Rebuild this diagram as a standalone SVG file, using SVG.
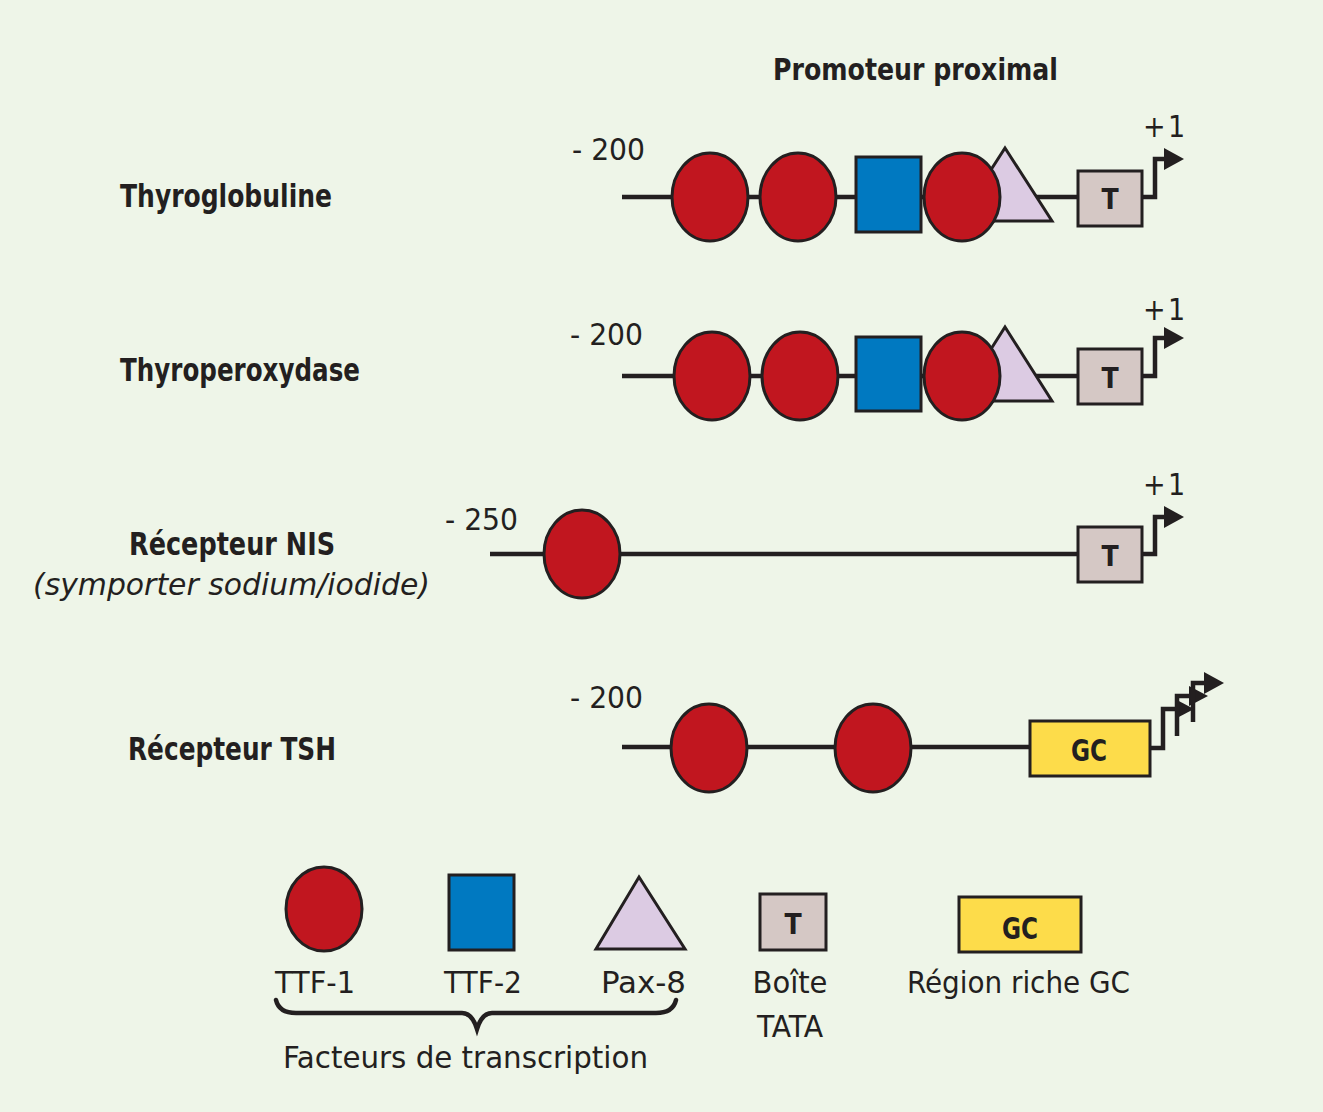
<svg xmlns="http://www.w3.org/2000/svg" width="1323" height="1112" viewBox="0 0 1323 1112">
<style>
.bg{fill:#eef5e8}
.ln{stroke:#231f20;stroke-width:4.5;fill:none}
.ar{stroke:#231f20;stroke-width:4.5;fill:none;stroke-linejoin:miter}
.ttf1{fill:#c1161f;stroke:#231f20;stroke-width:3}
.ttf2{fill:#0079c1;stroke:#231f20;stroke-width:3}
.pax{fill:#dccbe3;stroke:#231f20;stroke-width:3}
.tata{fill:#d5c8c5;stroke:#231f20;stroke-width:3}
.gc{fill:#fddc4a;stroke:#231f20;stroke-width:3}
.hd{fill:#231f20}
.lbl{font-family:"Liberation Sans Narrow","DejaVu Sans Condensed","Liberation Sans",sans-serif;font-weight:bold;fill:#231f20}
.num{font-family:"Liberation Sans Narrow","DejaVu Sans Condensed","Liberation Sans",sans-serif;fill:#231f20;font-size:30px}
.leg{font-family:"DejaVu Sans Condensed","Liberation Sans",sans-serif;fill:#231f20;font-size:30px}
.box{font-family:"DejaVu Sans Condensed","Liberation Sans",sans-serif;font-weight:bold;fill:#231f20;text-anchor:middle}
</style>
<rect class="bg" x="0" y="0" width="1323" height="1112"/>

<text class="lbl" x="773" y="80" font-size="30" textLength="285" lengthAdjust="spacingAndGlyphs">Promoteur proximal</text>

<g id="connectors">
  <line class="ln" x1="622" y1="197" x2="1078" y2="197"/>
  <line class="ln" x1="622" y1="376" x2="1078" y2="376"/>
  <line class="ln" x1="490" y1="554" x2="1078" y2="554"/>
  <line class="ln" x1="622" y1="747" x2="1030" y2="747"/>
  <path class="ar" d="M1142,197 H1155 V159 H1166"/>
  <polygon class="hd" points="1164,148 1184,159 1164,170"/>
  <path class="ar" d="M1142,376 H1155 V338 H1166"/>
  <polygon class="hd" points="1164,327 1184,338 1164,349"/>
  <path class="ar" d="M1142,554 H1155 V517 H1166"/>
  <polygon class="hd" points="1164,506 1184,517 1164,528"/>
  <path class="ar" d="M1150,748 H1163 V709 H1177"/>
  <polygon class="hd" points="1175,699 1194,709 1175,719"/>
  <path class="ar" d="M1177,736 V696 H1191"/>
  <polygon class="hd" points="1189,686 1208,696 1189,706"/>
  <path class="ar" d="M1193,722 V683 H1206"/>
  <polygon class="hd" points="1204,672 1224,683 1204,694"/>
</g>

<g id="row-thyroglobuline">
  <text class="lbl" x="120" y="207" font-size="32" textLength="212" lengthAdjust="spacingAndGlyphs">Thyroglobuline</text>
  <text class="num" x="572" y="160" textLength="73" lengthAdjust="spacingAndGlyphs">- 200</text>
  <text class="num" x="1143" y="137">+<tspan x="1168">1</tspan></text>
  <ellipse class="ttf1" cx="710" cy="197" rx="38" ry="44"/>
  <ellipse class="ttf1" cx="798" cy="197" rx="38" ry="44"/>
  <rect class="ttf2" x="856" y="157" width="65" height="75"/>
  <polygon class="pax" points="1005,148 1052,221 958,221"/>
  <ellipse class="ttf1" cx="962" cy="197" rx="38" ry="44"/>
  <rect class="tata" x="1078" y="171" width="64" height="55"/>
  <text class="box" x="1110" y="209" font-size="28">T</text>
</g>

<g id="row-thyroperoxydase">
  <text class="lbl" x="120" y="381" font-size="32" textLength="240" lengthAdjust="spacingAndGlyphs">Thyroperoxydase</text>
  <text class="num" x="570" y="345" textLength="73" lengthAdjust="spacingAndGlyphs">- 200</text>
  <text class="num" x="1143" y="320">+<tspan x="1168">1</tspan></text>
  <ellipse class="ttf1" cx="712" cy="376" rx="38" ry="44"/>
  <ellipse class="ttf1" cx="800" cy="376" rx="38" ry="44"/>
  <rect class="ttf2" x="856" y="337" width="65" height="74"/>
  <polygon class="pax" points="1005,327 1052,401 958,401"/>
  <ellipse class="ttf1" cx="962" cy="376" rx="38" ry="44"/>
  <rect class="tata" x="1078" y="349" width="64" height="55"/>
  <text class="box" x="1110" y="388" font-size="28">T</text>
</g>

<g id="row-nis">
  <text class="lbl" x="232" y="555" font-size="32" text-anchor="middle" textLength="206" lengthAdjust="spacingAndGlyphs">Récepteur NIS</text>
  <text class="leg" x="33" y="595" font-style="italic" textLength="397" lengthAdjust="spacingAndGlyphs">(symporter sodium/iodide)</text>
  <text class="num" x="445" y="530" textLength="73" lengthAdjust="spacingAndGlyphs">- 250</text>
  <text class="num" x="1143" y="495">+<tspan x="1168">1</tspan></text>
  <ellipse class="ttf1" cx="582" cy="554" rx="38" ry="44"/>
  <rect class="tata" x="1078" y="527" width="64" height="55"/>
  <text class="box" x="1110" y="566" font-size="28">T</text>
</g>

<g id="row-tsh">
  <text class="lbl" x="128" y="760" font-size="32" textLength="208" lengthAdjust="spacingAndGlyphs">Récepteur TSH</text>
  <text class="num" x="570" y="708" textLength="73" lengthAdjust="spacingAndGlyphs">- 200</text>
  <ellipse class="ttf1" cx="709" cy="748" rx="38" ry="44"/>
  <ellipse class="ttf1" cx="873" cy="748" rx="38" ry="44"/>
  <rect class="gc" x="1030" y="721" width="120" height="55"/>
  <text class="box" x="1089" y="761" font-size="30" textLength="36" lengthAdjust="spacingAndGlyphs">GC</text>
</g>

<g id="legend-ttf1">
  <ellipse class="ttf1" cx="324" cy="909" rx="38" ry="42"/>
  <text class="leg" x="275" y="993" textLength="80" lengthAdjust="spacingAndGlyphs">TTF-1</text>
</g>
<g id="legend-ttf2">
  <rect class="ttf2" x="449" y="875" width="65" height="75"/>
  <text class="leg" x="444" y="993" textLength="78" lengthAdjust="spacingAndGlyphs">TTF-2</text>
</g>
<g id="legend-pax8">
  <polygon class="pax" points="639,877 685,949 596,949"/>
  <text class="leg" x="601" y="993" textLength="85" lengthAdjust="spacingAndGlyphs">Pax-8</text>
</g>
<g id="legend-brace">
  <path class="ln" stroke-width="4" stroke-linecap="round" d="M276,1000 Q279,1013 296,1013 H462 Q472,1013 477,1029 Q482,1013 492,1013 H656 Q673,1013 676,1000"/>
  <text class="leg" x="283" y="1068" textLength="365" lengthAdjust="spacingAndGlyphs">Facteurs de transcription</text>
</g>
<g id="legend-tata">
  <rect class="tata" x="760" y="894" width="66" height="56"/>
  <text class="box" x="793" y="934" font-size="28">T</text>
  <text class="leg" x="790" y="993" text-anchor="middle" textLength="75" lengthAdjust="spacingAndGlyphs">Boîte</text>
  <text class="leg" x="790" y="1037" text-anchor="middle" textLength="66" lengthAdjust="spacingAndGlyphs">TATA</text>
</g>
<g id="legend-gc">
  <rect class="gc" x="959" y="897" width="122" height="55"/>
  <text class="box" x="1020" y="939" font-size="30" textLength="36" lengthAdjust="spacingAndGlyphs">GC</text>
  <text class="leg" x="907" y="993" textLength="223" lengthAdjust="spacingAndGlyphs">Région riche GC</text>
</g>
</svg>
